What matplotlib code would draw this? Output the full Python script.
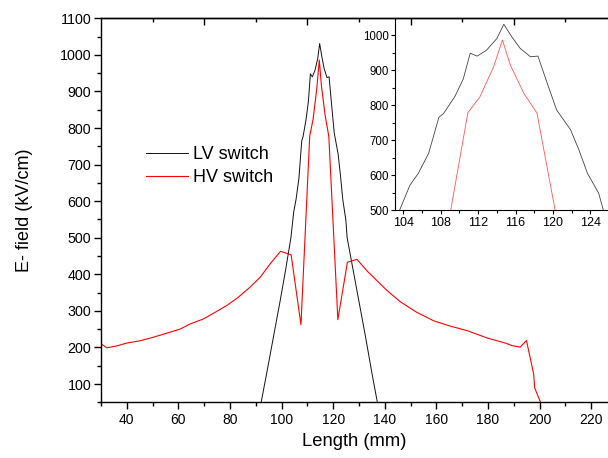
# -*- coding: utf-8 -*-
"""
E-field along the switch length, LV vs HV switch, with zoomed inset of the peak
"""
import numpy as np
import matplotlib
matplotlib.use('Agg')
import matplotlib.pyplot as plt
from matplotlib.ticker import MultipleLocator, FixedLocator

plt.rcParams['font.family'] = ['Liberation Sans', 'DejaVu Sans']

# LV switch (black)
lv_x = [91.8, 94.5, 97.0, 99.5, 101.5, 103.6, 104.7, 105.6, 106.7, 107.8, 108.3,
        109.5, 110.4, 111.15, 111.9, 112.9, 114.0, 114.75, 115.6, 116.5, 117.6,
        118.4, 119.4, 120.4, 121.9, 122.8, 123.7, 124.9, 125.4, 127.5, 130.0,
        132.5, 135.0, 137.5]
lv_y = [40, 140, 235, 330, 410, 500, 571, 605, 662, 765, 776,
        824, 874, 948, 940, 957, 990, 1031, 995, 962, 938,
        940, 862, 786, 729, 671, 605, 548, 500, 420, 325,
        230, 130, 35]

# HV switch (red)
hv_x = [30.0, 32.2, 36.0, 40.0, 45.0, 50.3, 55.0, 60.6, 64.5, 69.7, 74.0, 78.8,
        83.0, 87.8, 91.7, 95.6, 99.6, 103.7, 107.5, 110.9, 112.2, 113.65, 114.6,
        115.45, 116.9, 118.3, 121.8, 125.5, 129.2, 133.0, 136.9, 140.8, 146.0,
        152.4, 158.9, 165.0, 171.9, 179.6, 186.7, 189.3, 192.5, 194.9, 197.7,
        198.1, 201.5]
hv_y = [210, 199, 204, 212, 218, 228, 238, 250, 264, 278, 295, 315,
        336, 365, 392, 429, 463, 453, 262, 778, 824, 909, 986,
        914, 833, 777, 276, 433, 441, 410, 383, 356, 325,
        296, 273, 259, 246, 226, 212, 205, 201, 219, 127,
        89, 30]

W, H = 608, 458
fig = plt.figure(figsize=(W/100, H/100), dpi=100)

# main axes
ax = fig.add_axes([101/W, 1-402.3/H, (W-101)/W, (402.3-18.3)/H])
ax.plot(lv_x, lv_y, color='#111111', lw=0.7, label='LV switch')
ax.plot(hv_x, hv_y, color='#ff0000', lw=0.8, label='HV switch')
ax.set_xlim(30, 226.5)
ax.set_ylim(50, 1100)
ax.spines['right'].set_visible(False)
ax.xaxis.set_major_locator(MultipleLocator(20))
ax.xaxis.set_minor_locator(MultipleLocator(10))
ax.yaxis.set_major_locator(MultipleLocator(100))
ax.yaxis.set_minor_locator(MultipleLocator(50))
ax.set_xticks([40, 60, 80, 100, 120, 140, 160, 180, 200, 220])
ax.tick_params(axis='x', which='major', direction='out', length=5, width=1, labelsize=10, pad=3)
ax.tick_params(axis='x', which='minor', direction='out', length=3, width=1)
ax.tick_params(axis='y', which='major', direction='out', length=5, width=1, labelsize=10.3, pad=2)
ax.tick_params(axis='y', which='minor', direction='out', length=3, width=1)
for s in ['left', 'bottom', 'top']:
    ax.spines[s].set_linewidth(1.0)

# top axis ticks (inward)
top = ax.secondary_xaxis('top')
top.xaxis.set_major_locator(FixedLocator([70, 110, 150, 190]))
top.xaxis.set_minor_locator(FixedLocator([50, 90, 130, 170, 210]))
top.tick_params(which='major', direction='in', length=5, width=1, labeltop=False)
top.tick_params(which='minor', direction='in', length=3, width=1)
top.spines['top'].set_linewidth(1.0)
top.set_zorder(5)

ax.set_xlabel('Length (mm)', fontsize=13.2, labelpad=4)
ax.set_ylabel('E- field (kV/cm)', fontsize=13, labelpad=19)

leg = ax.legend(loc='upper left', bbox_to_anchor=(0.057, 0.71), frameon=False,
                fontsize=13, handlelength=2.3, handletextpad=0.3, labelspacing=0.35)

# inset
axi = fig.add_axes([395/W, 1-210/H, (W-395)/W, (210-18.3)/H])
axi.patch.set_alpha(0)
axi.plot(lv_x, lv_y, color='#444444', lw=0.6)
axi.plot(hv_x, hv_y, color='#ff5555', lw=0.6)
axi.set_xlim(103.1, 125.9)
axi.set_ylim(500, 1048)
axi.spines['right'].set_visible(False)
axi.spines['top'].set_visible(False)
axi.xaxis.set_major_locator(MultipleLocator(4))
axi.xaxis.set_minor_locator(MultipleLocator(2))
axi.yaxis.set_major_locator(MultipleLocator(100))
axi.yaxis.set_minor_locator(MultipleLocator(50))
axi.tick_params(axis='x', which='major', direction='out', length=3, width=0.8, labelsize=9, pad=2)
axi.tick_params(axis='x', which='minor', direction='out', length=2, width=0.8)
axi.tick_params(axis='y', which='major', direction='out', length=3, width=0.8, labelsize=8.3, pad=1.5)
axi.tick_params(axis='y', which='minor', direction='out', length=2, width=0.8)
for s in ['left', 'bottom']:
    axi.spines[s].set_linewidth(0.8)

fig.savefig('out.png', dpi=100)
